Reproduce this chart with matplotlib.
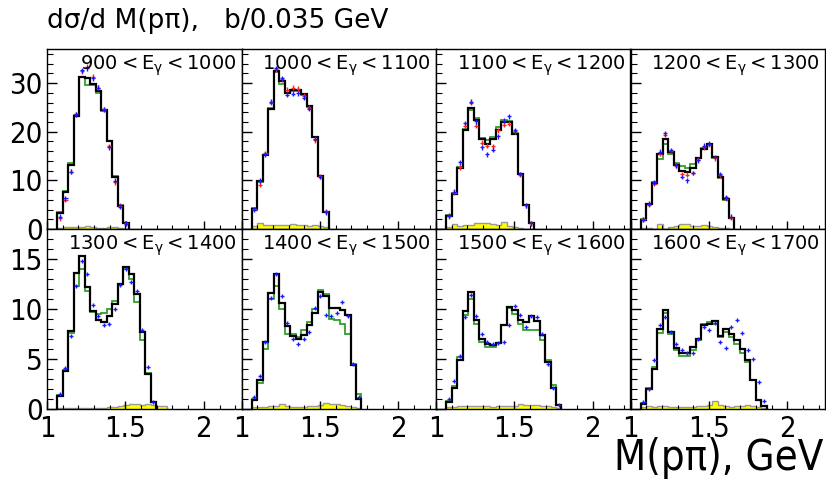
import numpy as np
import matplotlib
matplotlib.use('Agg')
import matplotlib.pyplot as plt
from matplotlib import font_manager
from matplotlib.ticker import FixedLocator, MultipleLocator, FuncFormatter

# ---------------- data ----------------
bin_start = 1.065
bin_width = 0.035

panel_labels = ["900$<$E$_{\\gamma}$$<$1000", "1000$<$E$_{\\gamma}$$<$1100",
                "1100$<$E$_{\\gamma}$$<$1200", "1200$<$E$_{\\gamma}$$<$1300",
                "1300$<$E$_{\\gamma}$$<$1400", "1400$<$E$_{\\gamma}$$<$1500",
                "1500$<$E$_{\\gamma}$$<$1600", "1600$<$E$_{\\gamma}$$<$1700"]

black1 = [3.2, 7.6, 13.2, 23.3, 31.2, 31.0, 29.8, 28.3, 24.4, 18.0, 10.7, 4.8, 1.3]
green1 = [3.5, 7.9, 13.5, 23.5, 31.2, 29.6, 29.5, 28.0, 24.2, 18.0, 10.8, 4.9, 1.3]
blue1 = [2.5, 6.3, 11.8, 23.6, 32.6, 33.0, 31.0, 29.0, 24.5, 16.8, 9.9, 4.6, 1.1]
red1 = [2.2, 6.0, 11.8, 23.6, 32.4, 33.4, 31.3, 29.0, 24.6, 17.0, 9.6, 4.8, 1.2]
yellow1 = [0.2, 0.5, 0.4, 0.4, 0.5, 0.7, 0.5, 0.3, 0.3, 0.4, 0.4, 0.3, 0.1]

black2 = [4.1, 9.9, 15.3, 24.7, 32.4, 30.4, 27.9, 28.5, 28.5, 27.8, 25.2, 18.9, 10.8, 3.4]
green2 = [4.3, 9.6, 15.2, 24.8, 32.3, 29.8, 28.0, 28.3, 28.3, 27.6, 25.0, 19.0, 10.9, 3.5]
blue2 = [4.0, 9.9, 15.4, 26.2, 33.1, 31.0, 27.6, 27.8, 27.9, 27.0, 24.7, 18.6, 10.7, 3.4]
red2 = [4.1, 9.1, 15.6, 26.0, 32.8, 30.8, 28.6, 29.0, 28.8, 27.4, 24.9, 18.2, 10.8, 3.6]
yellow2 = [0.6, 1.2, 0.9, 0.9, 0.8, 0.8, 0.9, 1.0, 0.8, 0.9, 0.7, 0.8, 0.6, 0.4]

black3 = [2.7, 7.2, 12.6, 20.3, 24.9, 22.5, 18.6, 17.5, 18.6, 20.3, 22.0, 21.9, 19.6, 11.3, 4.9, 1.2]
green3 = [2.8, 7.4, 12.8, 20.6, 24.4, 22.8, 18.7, 18.2, 18.9, 20.9, 22.4, 22.2, 19.7, 11.4, 5.0, 1.2]
blue3 = [2.7, 7.7, 13.7, 21.8, 26.2, 22.1, 16.8, 15.4, 16.3, 19.1, 22.3, 23.2, 20.3, 11.3, 4.9, 1.2]
red3 = [2.6, 7.5, 12.7, 21.2, 26.0, 21.2, 17.7, 17.1, 17.0, 20.3, 21.4, 21.6, 20.1, 11.2, 4.9, 1.2]
yellow3 = [0.4, 1.0, 0.6, 0.8, 0.9, 1.2, 1.3, 1.2, 1.0, 0.9, 1.4, 0.6, 0.4, 0.2, 0.1, 0.0]

black4 = [1.9, 5.1, 9.4, 15.5, 18.4, 15.9, 13.1, 12.0, 11.8, 12.6, 14.6, 16.5, 17.5, 14.8, 10.7, 6.1, 2.2]
green4 = [2.0, 5.2, 9.6, 14.4, 17.5, 15.5, 13.6, 12.9, 12.6, 13.4, 14.6, 16.6, 17.4, 14.6, 10.5, 6.0, 2.2]
blue4 = [1.9, 5.2, 9.6, 15.9, 19.7, 16.2, 13.1, 10.7, 10.0, 11.5, 14.1, 17.1, 17.5, 14.8, 11.3, 6.5, 2.5]
red4 = [2.0, 5.0, 9.3, 15.5, 19.4, 16.0, 13.0, 11.3, 11.2, 11.5, 14.2, 16.8, 17.3, 14.5, 11.0, 6.2, 2.3]
yellow4 = [0.3, 0.3, 0.1, 1.0, 0.1, 0.4, 0.7, 1.0, 1.0, 0.6, 0.7, 0.9, 0.6, 0.5, 0.3, 0.2, 0.0]

black5 = [1.3, 3.8, 7.8, 13.6, 15.3, 12.2, 9.8, 8.9, 8.7, 9.3, 10.5, 12.5, 14.2, 13.5, 11.5, 7.7, 3.5, 0.7]
green5 = [1.4, 3.9, 7.6, 12.3, 14.0, 11.8, 9.7, 9.5, 9.6, 10.0, 10.8, 12.5, 14.0, 13.0, 10.7, 6.9, 3.6, 0.7]
blue5 = [1.5, 4.1, 7.3, 12.3, 14.8, 13.5, 10.4, 9.3, 8.4, 8.5, 10.0, 12.4, 14.0, 12.7, 11.8, 7.9, 4.2, 0.7]
yellow5 = [0.1, 0.1, 0.15, 0.1, 0.15, 0.1, 0.1, 0.15, 0.1, 0.2, 0.25, 0.3, 0.45, 0.5, 0.55, 0.45, 0.5, 0.45, 0.35, 0.3]

black6 = [0.9, 2.9, 6.7, 11.6, 13.5, 10.6, 8.3, 7.3, 7.0, 7.4, 8.4, 9.6, 11.7, 11.3, 10.1, 10.1, 9.9, 9.4, 4.4, 1.0]
green6 = [1.0, 2.6, 6.0, 11.0, 12.3, 10.0, 7.5, 7.5, 7.2, 7.9, 8.7, 10.0, 11.9, 11.5, 9.0, 8.9, 8.5, 7.5, 4.5, 1.5]
blue6 = [1.2, 3.3, 6.7, 11.1, 13.5, 11.3, 8.6, 7.0, 6.5, 7.0, 7.7, 10.1, 11.3, 9.4, 9.3, 9.6, 10.7, 9.3, 4.5, 1.2]
yellow6 = [0.2, 0.2, 0.25, 0.3, 0.3, 0.5, 0.3, 0.2, 0.2, 0.25, 0.3, 0.3, 0.4, 0.6, 0.5, 0.5, 0.4, 0.3, 0.2, 0.1]

black7 = [0.7, 2.1, 4.9, 9.8, 11.7, 8.9, 7.0, 6.5, 6.4, 6.6, 8.4, 10.2, 9.9, 8.9, 8.7, 9.3, 8.8, 7.4, 4.7, 2.1, 0.4]
green7 = [0.8, 2.3, 5.2, 9.4, 11.0, 8.5, 6.7, 6.2, 6.2, 6.6, 8.4, 10.1, 9.5, 8.5, 7.9, 7.9, 7.9, 6.9, 4.9, 2.4, 0.4]
blue7 = [1.0, 2.8, 5.3, 9.2, 11.4, 9.3, 7.5, 6.7, 6.5, 6.6, 6.7, 8.4, 10.3, 9.4, 8.2, 9.3, 9.2, 7.5, 4.5, 2.1, 0.4]
yellow7 = [0.2, 0.2, 0.3, 0.3, 0.35, 0.3, 0.3, 0.3, 0.25, 0.3, 0.3, 0.35, 0.35, 0.5, 0.45, 0.45, 0.4, 0.35, 0.3, 0.25, 0.1]

black8 = [0.5, 2.0, 4.0, 8.0, 9.9, 7.7, 6.1, 5.6, 5.6, 6.2, 7.0, 8.4, 8.5, 8.8, 7.3, 8.0, 7.5, 6.9, 6.0, 4.9, 2.9, 0.9, 0.3]
green8 = [0.6, 2.1, 4.2, 7.6, 9.6, 7.5, 5.9, 5.3, 5.3, 5.9, 6.9, 8.5, 8.7, 8.5, 7.2, 7.7, 7.2, 6.5, 5.6, 4.7, 2.9, 0.9, 0.3]
blue8 = [0.7, 2.0, 4.9, 8.4, 9.2, 7.7, 6.5, 5.9, 5.6, 5.6, 7.0, 8.2, 7.9, 8.6, 6.7, 6.1, 8.2, 8.9, 7.6, 5.9, 5.0, 2.7, 0.8]
yellow8 = [0.2, 0.3, 0.25, 0.3, 0.3, 0.2, 0.25, 0.2, 0.2, 0.25, 0.3, 0.3, 0.4, 0.8, 0.4, 0.3, 0.25, 0.3, 0.35, 0.4, 0.3, 0.2, 0.1]

blacks = [black1, black2, black3, black4, black5, black6, black7, black8]
greens = [green1, green2, green3, green4, green5, green6, green7, green8]
blues = [blue1, blue2, blue3, blue4, blue5, blue6, blue7, blue8]
reds = [red1, red2, red3, red4, None, None, None, None]
yellows = [yellow1, yellow2, yellow3, yellow4, yellow5, yellow6, yellow7, yellow8]

x_ticks = [1.0, 1.5, 2.0]
top_yticks = [0, 10, 20, 30]
bot_yticks = [0, 5, 10, 15]

# ---------------- fonts ----------------
plt.rcParams['mathtext.default'] = 'regular'
plt.rcParams['font.family'] = ['DejaVu Sans']
cond = {}
for f in font_manager.fontManager.ttflist:
    if f.name == 'DejaVu Sans' and 'condensed' in str(f.stretch).lower():
        cond = dict(family='DejaVu Sans', stretch='condensed')
        break
if not cond:
    names = {f.name for f in font_manager.fontManager.ttflist}
    if 'Liberation Sans Narrow' in names:
        cond = dict(family='Liberation Sans Narrow')
    else:
        cond = dict(family='DejaVu Sans')

# ---------------- figure ----------------
W, H = 826, 479
fig = plt.figure(figsize=(W / 100, H / 100), dpi=100)
left, right = 47 / W, 825 / W
top, mid, bot = 1 - 48.5 / H, 1 - 229 / H, 1 - 409 / H
ncol = 4
pw = (right - left) / ncol

axes = []
for i in range(8):
    r, c = divmod(i, 4)
    if r == 0:
        rect = [left + c * pw, mid, pw, top - mid]
    else:
        rect = [left + c * pw, bot, pw, mid - bot]
    ax = fig.add_axes(rect)
    axes.append(ax)

for i, ax in enumerate(axes):
    r, c = divmod(i, 4)
    blk = np.array(blacks[i])
    n = len(blk)
    edges = bin_start + bin_width * np.arange(n + 1)
    centers = 0.5 * (edges[:-1] + edges[1:])
    yl = np.array(yellows[i])
    yedges = bin_start + bin_width * np.arange(len(yl) + 1)

    ax.stairs(yl, yedges, fill=True, facecolor='#ffff00', edgecolor='none', zorder=1)
    ax.stairs(yl, yedges, color='#999999', lw=1.0, zorder=1.5)
    ax.stairs(np.array(greens[i]), edges, color='#33a02c', lw=1.3, zorder=2)
    ax.stairs(blk, edges, color='black', lw=1.6, zorder=3)

    err = 0.5 if r == 0 else 0.22
    if reds[i] is not None:
        ax.errorbar(centers, reds[i], xerr=bin_width * 0.38, yerr=err, fmt='none',
                    ecolor='#ff2020', elinewidth=1.0, zorder=4)
    ax.errorbar(centers, blues[i], xerr=bin_width * 0.38, yerr=err, fmt='none',
                ecolor='#1a1aff', elinewidth=1.0, zorder=5)

    ax.set_xlim(1.0, 2.24)
    if r == 0:
        ax.set_ylim(0, 37.1)
        ax.yaxis.set_major_locator(FixedLocator(top_yticks))
        ax.yaxis.set_minor_locator(MultipleLocator(2))
    else:
        ax.set_ylim(0, 18.0)
        ax.yaxis.set_major_locator(FixedLocator(bot_yticks))
        ax.yaxis.set_minor_locator(MultipleLocator(1))
    ax.xaxis.set_major_locator(FixedLocator(x_ticks))
    ax.xaxis.set_minor_locator(MultipleLocator(0.1))
    ax.xaxis.set_major_formatter(FuncFormatter(lambda v, p: '%g' % v))
    ax.tick_params(which='both', direction='in', top=False, right=False)
    ax.tick_params(axis='y', which='major', length=7, width=1)
    ax.tick_params(axis='y', which='minor', length=4, width=0.8)
    ax.tick_params(axis='x', which='major', length=5.5, width=1)
    ax.tick_params(axis='x', which='minor', length=3, width=0.8)
    for lab in ax.get_xticklabels() + ax.get_yticklabels():
        lab.set_fontsize(21)
        lab.set_fontfamily(cond.get('family', 'DejaVu Sans'))
        if 'stretch' in cond:
            lab.set_fontstretch(cond['stretch'])
    ax.tick_params(axis='x', pad=4)
    ax.tick_params(axis='y', pad=3)
    if r == 0:
        ax.tick_params(labelbottom=False)
    if c != 0:
        ax.tick_params(labelleft=False)
    for s in ax.spines.values():
        s.set_linewidth(1.0)
    ax.text(0.975, 0.975, panel_labels[i], transform=ax.transAxes, ha='right', va='top',
            fontsize=14, zorder=6)

fig.text(47 / W, 1 - 28.5 / H, "d\u03c3/d M(p\u03c0),   b/0.035 GeV", fontsize=19,
         ha='left', va='baseline')
fig.text(823 / W, 1 - 470 / H, "M(p\u03c0), GeV", fontsize=30, ha='right', va='baseline',
         **cond)

fig.savefig('out.png', dpi=100)
